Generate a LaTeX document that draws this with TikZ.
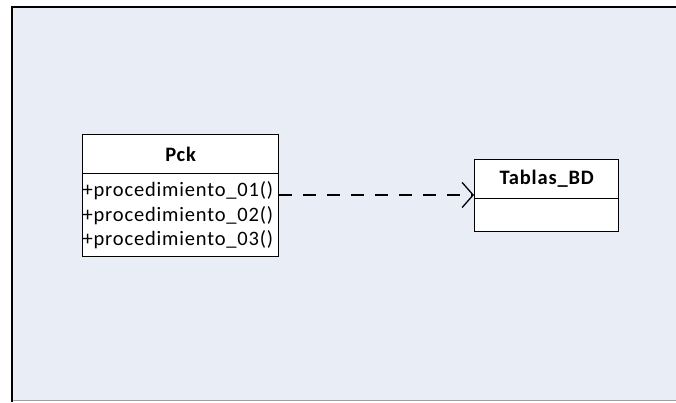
\documentclass[tikz,border=0pt]{standalone}
\usepackage{fontspec}
\setmainfont{Carlito}
\usetikzlibrary{arrows.meta}
\definecolor{canvas}{RGB}{233,237,245}
\definecolor{edge}{RGB}{160,160,160}
\begin{document}
\begin{tikzpicture}[x=1pt,y=-1pt,
  classhead/.style={draw=black, line width=1.3pt, fill=white, anchor=north west,
    inner sep=0pt, font=\fontsize{20.5}{24}\selectfont\bfseries\addfontfeature{LetterSpace=4}},
  classbody/.style={draw=black, line width=1.3pt, fill=white, anchor=north west,
    inner sep=0pt, font=\fontsize{20.5}{24.5}\selectfont\addfontfeature{LetterSpace=4},
    align=left},
  depend/.style={line width=1.3pt, dash pattern=on 13pt off 11pt,
    -{Straight Barb[length=11pt,width=25pt,line width=1.3pt]}}]
  \useasboundingbox (0,0) rectangle (676,402);
  \fill[white] (0,0) rectangle (676,402);
  % drawing canvas
  \fill[canvas] (11,6) rectangle (676,401);
  \draw[edge, line width=1.5pt] (11,400.5) -- (676,400.5);
  \draw[black, line width=2pt] (12,402) -- (12,7) -- (676,7);
  % class Pck
  \node[classhead, minimum width=196pt, minimum height=39pt] (pckh) at (82,134) {Pck};
  \node[classbody, minimum width=196pt, minimum height=83pt, text width=196pt] (pckb) at (82,173)
    {+procedimiento\_01()\\+procedimiento\_02()\\+procedimiento\_03()};
  % class Tablas_BD
  \node[classhead, minimum width=144pt, minimum height=39pt] (tabh) at (474,159) {Tablas\_BD};
  \node[classbody, minimum width=144pt, minimum height=33pt] (tabb) at (474,198) {};
  % dependency
  \coordinate (lvl) at (0,195);
  \draw[depend] (pckb.east |- lvl) -- (tabh.west |- lvl);
\end{tikzpicture}
\end{document}
